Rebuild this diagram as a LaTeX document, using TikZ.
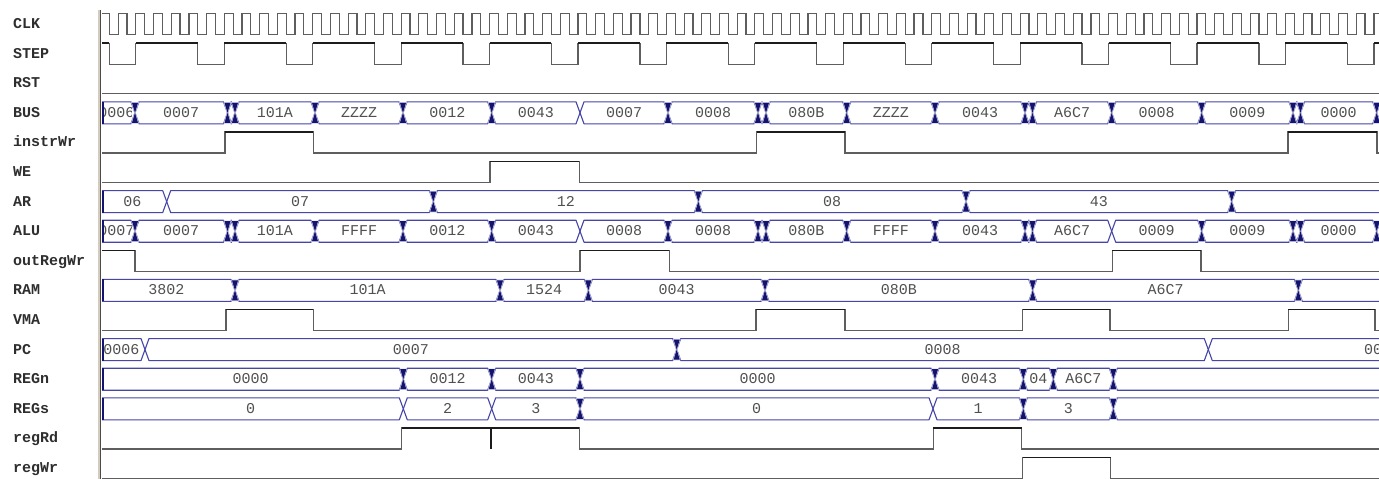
\documentclass[tikz,border=0pt]{standalone}
\usepackage{fontspec}
\newfontfamily\wavefont{Liberation Mono}
\definecolor{WaveGray}{HTML}{5E5E5E}
\definecolor{WaveDark}{HTML}{1C1C1C}
\definecolor{BusBlue}{HTML}{4646A8}
\definecolor{BusNavy}{HTML}{14146E}
\definecolor{NameGray}{HTML}{2E2E2E}
\definecolor{ValGray}{HTML}{505050}
\definecolor{SepLight}{HTML}{D2CBBE}
\definecolor{SepDark}{HTML}{4A4A4A}
\tikzset{
  signame/.style={anchor=base west, inner sep=0pt, text=NameGray,
                  font=\wavefont\bfseries\fontsize{15}{15}\selectfont},
  busval/.style={anchor=base, inner sep=0pt, text=ValGray,
                 font=\wavefont\fontsize{15}{15}\selectfont},
  bitline/.style={draw=WaveGray, line width=1.2pt},
  bithigh/.style={draw=WaveDark, line width=1.6pt},
  busline/.style={draw=BusBlue, line width=1.1pt, line join=round},
  busknot/.style={fill=BusNavy, preaction={draw=BusBlue!30, line width=1.4pt}},
}
\begin{document}
\begin{tikzpicture}[x=1pt, y=-1pt]
  \useasboundingbox[fill=white] (0,0) rectangle (1379,479);

  % \bitsig{centre y}{high intervals a/b}
  \newcommand{\bitsig}[2]{%
    \draw[bitline] (98,{#1+10.5}) \foreach \a/\b in {#2} {
      -- (\a,{#1+10.5}) -- (\a,{#1-10.5}) -- (\b,{#1-10.5}) -- (\b,{#1+10.5}) }
      -- (1400,{#1+10.5});
    \foreach \a/\b in {#2} \draw[bithigh] (\a,{#1-10.5}) -- (\b,{#1-10.5});
  }
  % \pulsetrain{centre y}{first rise}{high length}{period}{last k}{style of highs}
  \newcommand{\pulsetrain}[6]{%
    \draw[bitline] (40,{#1+10.5}) \foreach \k in {0,...,#5} {
      -- ({#2+#4*\k},{#1+10.5}) -- ({#2+#4*\k},{#1-10.5})
      -- ({#2+#3+#4*\k},{#1-10.5}) -- ({#2+#3+#4*\k},{#1+10.5}) }
      -- (1400,{#1+10.5});
    \foreach \k in {0,...,#5}
      \draw[#6] ({#2+#4*\k},{#1-10.5}) -- ({#2+#3+#4*\k},{#1-10.5});
  }
  % \bussig{name}{centre y}{segments x1/x2/value}{dark crossings}
  \newcommand{\bussig}[4]{%
    \foreach \a/\b/\v [count=\i] in {#3} {
      \draw[busline] ({\a+4},{#2-11}) -- ({\b-4},{#2-11}) -- (\b,#2)
        -- ({\b-4},{#2+11}) -- ({\a+4},{#2+11}) -- (\a,#2) -- cycle;
      \begin{scope}
        \clip ({\a+4},{#2-11}) rectangle ({\b-4},{#2+11});
        \node[busval] (#1-\i) at ({(\a+\b)/2},{#2+4.5}) {\v};
      \end{scope}
    }
    \foreach \x in {#4}
      \fill[busknot] ({\x-3},{#2-10}) -- ({\x+3},{#2-10})
        -- ({\x-3},{#2+10}) -- ({\x+3},{#2+10}) -- cycle;
    \draw[busline, draw=BusNavy] (103,{#2-11}) -- (103,{#2+11});
  }

  % signal names
  \foreach \nm [count=\i from 0] in {CLK,STEP,RST,BUS,instrWr,WE,AR,ALU,outRegWr,
                                     RAM,VMA,PC,REGn,REGs,regRd,regWr}
    \node[signame] (lbl-\nm) at (13,{28.5+29.6*\i}) {\nm};

  % divider
  \draw[SepLight, line width=1.6pt] (98.8,10) -- (98.8,479);
  \draw[SepDark, line width=1.1pt] (100.6,10) -- (100.6,479);

  \begin{scope}
    \clip (102,0) rectangle (1379,479);
    \pulsetrain{24}{100.5}{8.843}{17.686}{72}{bitline}
    \pulsetrain{53.6}{47.44}{61.9}{88.43}{15}{bithigh}
    \draw[bitline] (98,93.7) -- (1400,93.7);
    \bussig{bus}{112.8}{98/135/0006, 135/227.5/0007, 227.5/235/{}, 235/315/101A,
      315/403/ZZZZ, 403/491.7/0012, 491.7/580/0043, 580/668/0007, 668/758/0008,
      758/766/{}, 766/846.7/080B, 846.7/935/ZZZZ, 935/1025/0043, 1025/1032.5/{},
      1032.5/1111.7/A6C7, 1111.7/1201.7/0008, 1201.7/1293/0009, 1293/1300.5/{},
      1300.5/1376.7/0000, 1376.7/1460/{}}
      {135, 227.5, 235, 315, 403, 491.7, 668, 758, 766, 846.7, 935, 1025, 1032.5,
       1111.7, 1201.7, 1293, 1300.5, 1376.7}
    \bitsig{142.4}{225/313.3, 756.7/845, 1288/1377}
    \bitsig{172}{490/579.3}
    \bussig{ar}{201.6}{98/166.7/06, 166.7/433.3/07, 433.3/698.3/12, 698.3/966/08,
      966/1231.7/43, 1231.7/1500/{}}
      {433.3, 698.3, 966, 1231.7}
    \bussig{alu}{231.2}{98/135/0007, 135/227.5/0007, 227.5/235/{}, 235/315/101A,
      315/403/FFFF, 403/491.7/0012, 491.7/580/0043, 580/668/0008, 668/758/0008,
      758/766/{}, 766/846.7/080B, 846.7/935/FFFF, 935/1025/0043, 1025/1032.5/{},
      1032.5/1111.7/A6C7, 1111.7/1201.7/0009, 1201.7/1293/0009, 1293/1300.5/{},
      1300.5/1376.7/0000, 1376.7/1460/{}}
      {135, 227.5, 235, 315, 403, 491.7, 668, 758, 766, 846.7, 935, 1025, 1032.5,
       1201.7, 1293, 1300.5, 1376.7}
    \bitsig{260.8}{90/135, 580/669.3, 1112.3/1201}
    \bussig{ram}{290.4}{98/235/3802, 235/500/101A, 500/588.3/1524, 588.3/765/0043,
      765/1032.7/080B, 1032.7/1298.3/A6C7, 1298.3/1500/{}}
      {235, 500, 588.3, 765, 1032.7, 1298.3}
    \bitsig{320}{226/313.3, 756/845, 1022.7/1110, 1288.3/1375}
    \bussig{pc}{349.6}{98/145/0006, 145/676.7/0007, 676.7/1208.3/0008,
      1208.3/1556/0009}
      {676.7}
    \bussig{regn}{379.2}{98/403.3/0000, 403.3/491.7/0012, 491.7/580/0043,
      580/935/0000, 935/1023.3/0043, 1023.3/1053.3/04, 1053.3/1113.3/A6C7,
      1113.3/1500/{}}
      {403.3, 491.7, 580, 935, 1023.3, 1053.3, 1113.3}
    \bussig{regs}{408.8}{98/403.3/0, 403.3/491.7/2, 491.7/580/3, 580/933/0,
      933/1023.3/1, 1023.3/1113.3/3, 1113.3/1500/{}}
      {580, 1023.3, 1113.3}
    \bitsig{438.4}{401.7/579.3, 933.3/1021.7}
    \draw[bithigh] (490.7,427.9) -- (490.7,448.9);
    \bitsig{468}{1022.7/1110.7}
  \end{scope}

\end{tikzpicture}
\end{document}
